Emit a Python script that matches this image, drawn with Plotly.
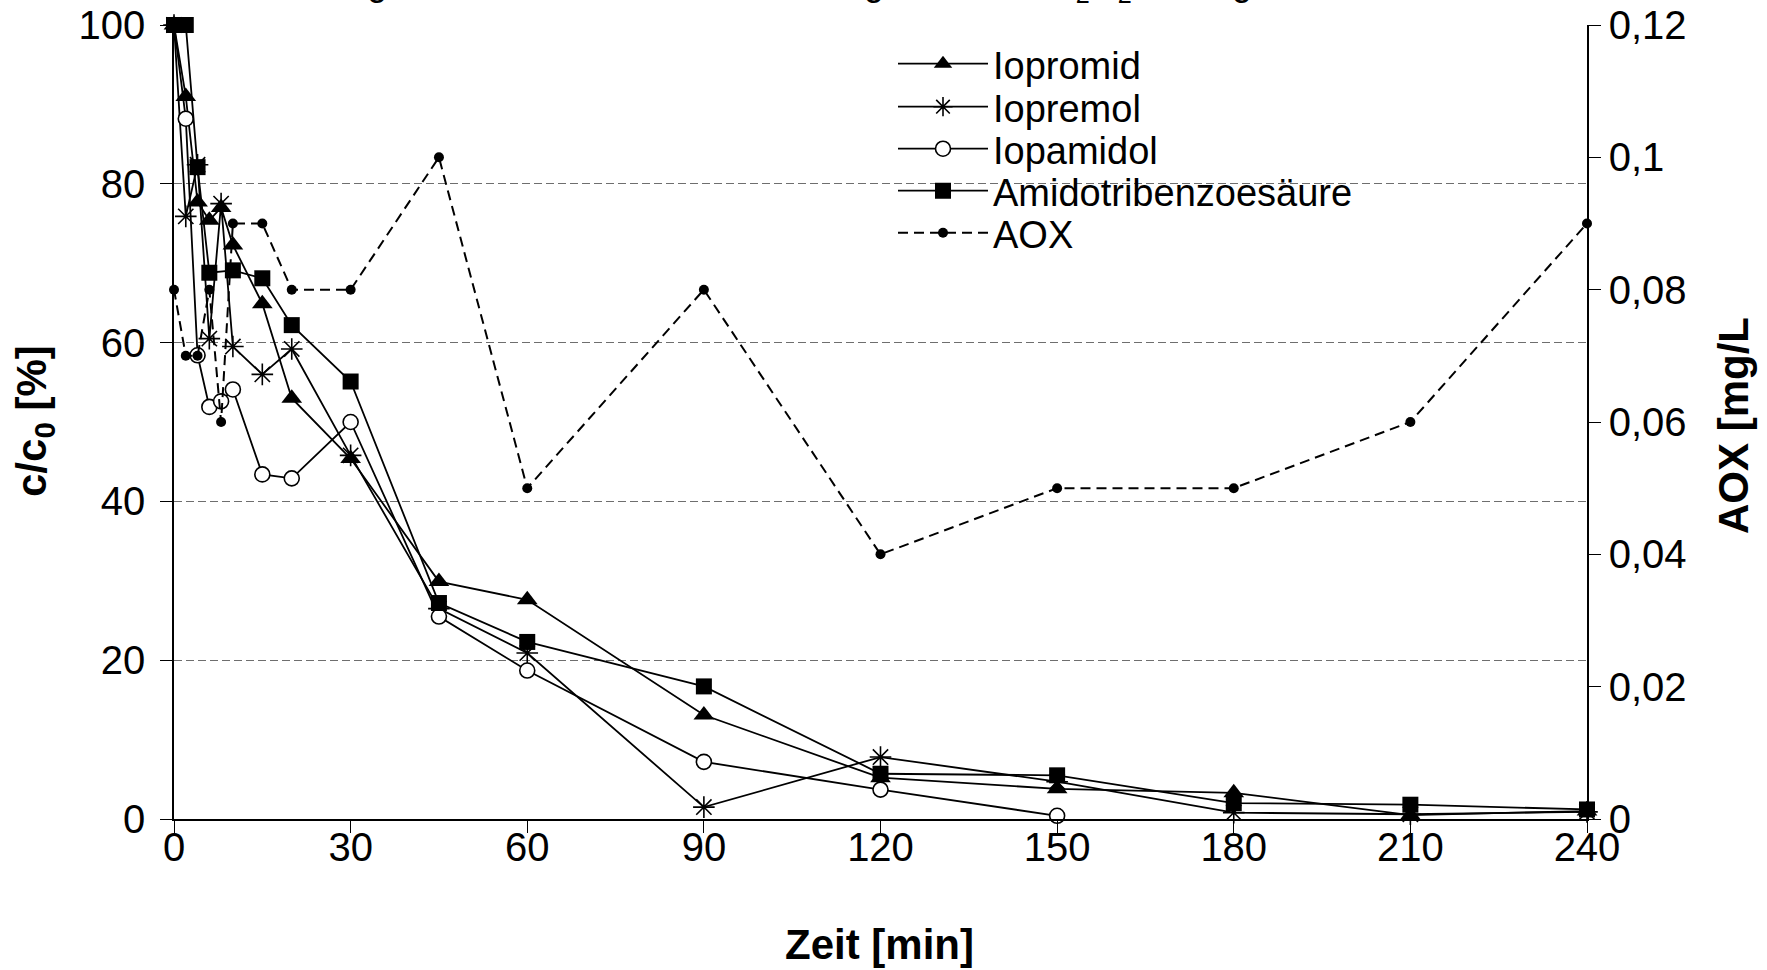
import plotly.graph_objects as go

# ---- data ----
x_ticks = [0, 30, 60, 90, 120, 150, 180, 210, 240]
y_ticks = [0, 20, 40, 60, 80, 100]
y2_tickvals = [0, 0.02, 0.04, 0.06, 0.08, 0.10, 0.12]
y2_ticktext = ["0", "0,02", "0,04", "0,06", "0,08", "0,1", "0,12"]

t_iopromid = [0, 2, 4, 6, 8, 10, 15, 20, 30, 45, 60, 90, 120, 150, 180, 210, 240]
iopromid = [100, 91, 77.7, 75.4, 77, 72.3, 64.9, 53, 45.4, 29.9, 27.6, 13.1, 5.2, 3.8, 3.3, 0.5, 1.0]

t_iopremol = [0, 2, 4, 6, 8, 10, 15, 20, 30, 45, 60, 90, 120, 150, 180, 210, 240]
iopremol = [100, 75.9, 82.4, 60.5, 77.5, 59.5, 56, 59.2, 45.8, 26.5, 20.9, 1.5, 7.8, 4.7, 0.8, 0.6, 0.9]

t_iopamidol = [0, 2, 4, 6, 8, 10, 15, 20, 30, 45, 60, 90, 120, 150]
iopamidol = [100, 88.2, 58.4, 51.9, 52.6, 54.1, 43.4, 42.9, 50, 25.5, 18.7, 7.2, 3.7, 0.4]

t_amido = [0, 2, 4, 6, 10, 15, 20, 30, 45, 60, 90, 120, 150, 180, 210, 240]
amido = [100, 100, 82.1, 68.8, 69.1, 68.1, 62.2, 55.1, 27.2, 22.3, 16.7, 5.7, 5.5, 2.0, 1.8, 1.2]

t_aox = [0, 2, 4, 6, 8, 10, 15, 20, 30, 45, 60, 90, 120, 150, 180, 210, 240]
aox = [0.08, 0.07, 0.07, 0.08, 0.06, 0.09, 0.09, 0.08, 0.08, 0.10, 0.05, 0.08, 0.04, 0.05, 0.05, 0.06, 0.09]

FONT = "Liberation Sans, Arial, sans-serif"
W, H = 1767, 970
L, R, T, B = 174, 180, 25, 151
PW, PH = W - L - R, H - T - B


def px_x(px):
    return (px - L) / PW


def px_y(py):
    return (H - B - py) / PH


fig = go.Figure()

line = dict(color="black", width=1.8)

fig.add_trace(go.Scatter(
    x=t_iopromid, y=iopromid, name="Iopromid", mode="lines+markers",
    line=line, marker=dict(symbol="triangle-up", size=18, color="black"),
    cliponaxis=False, legend="legend"))
fig.add_trace(go.Scatter(
    x=t_iopremol, y=iopremol, name="Iopremol", mode="lines+markers",
    line=line, marker=dict(symbol="asterisk-open", size=18, color="black",
                           line=dict(color="black", width=1.6)),
    cliponaxis=False, legend="legend2"))
fig.add_trace(go.Scatter(
    x=t_iopamidol, y=iopamidol, name="Iopamidol", mode="lines+markers",
    line=line, marker=dict(symbol="circle", size=15, color="white",
                           line=dict(color="black", width=1.6)),
    cliponaxis=False, legend="legend3"))
fig.add_trace(go.Scatter(
    x=t_amido, y=amido, name="Amidotribenzoesäure", mode="lines+markers",
    line=line, marker=dict(symbol="square", size=16, color="black"),
    cliponaxis=False, legend="legend4"))
fig.add_trace(go.Scatter(
    x=t_aox, y=aox, name="AOX", mode="lines+markers", yaxis="y2",
    line=dict(color="black", width=2, dash="10px,6px"),
    marker=dict(symbol="circle", size=10, color="black"),
    cliponaxis=False, legend="legend5"))

tickfont = dict(family=FONT, size=40, color="black")
titlefont = dict(family=FONT, size=42, color="black")

legend_rows = [64, 107, 149, 191, 233]
legends = {}
for i, ry in enumerate(legend_rows):
    key = "legend" if i == 0 else f"legend{i + 1}"
    legends[key] = dict(
        x=px_x(893), y=px_y(ry), xanchor="left", yanchor="middle",
        font=dict(family=FONT, size=38, color="black"),
        bgcolor="rgba(255,255,255,0)", borderwidth=0, itemwidth=90,
        tracegroupgap=0)

axis_common = dict(ticks="outside", ticklen=12, tickcolor="black", tickwidth=1,
                   showline=True, linecolor="black", linewidth=1.5,
                   zeroline=False, tickfont=tickfont, automargin=False)

fig.update_layout(
    width=W, height=H,
    margin=dict(l=L, r=R, t=T, b=B, pad=0, autoexpand=False),
    paper_bgcolor="white", plot_bgcolor="white",
    font=dict(family=FONT, color="black"),
    showlegend=True,
    xaxis=dict(range=[0, 240], tickvals=x_ticks, showgrid=False,
               ticklabelstandoff=-20, **axis_common),
    yaxis=dict(range=[0, 100], tickvals=y_ticks, showgrid=True, gridcolor="#6e6e6e",
               gridwidth=1, griddash="8px,4px", ticklabelstandoff=7, **axis_common),
    yaxis2=dict(range=[0, 0.12], overlaying="y", side="right", anchor="x",
                tickvals=y2_tickvals, ticktext=y2_ticktext, showgrid=False,
                **axis_common),
    **legends,
    annotations=[
        dict(text="<b>Zeit [min]</b>", xref="paper", yref="paper",
             x=px_x(879), y=px_y(944), xanchor="center", yanchor="middle",
             showarrow=False, font=titlefont),
        dict(text="<b>c/c<sub>0</sub> [%]</b>", xref="paper", yref="paper",
             x=px_x(35), y=px_y(421), xanchor="center", yanchor="middle",
             textangle=-90, showarrow=False, font=titlefont),
        dict(text="<b>AOX [mg/L</b>", xref="paper", yref="paper",
             x=px_x(1733), y=px_y(425), xanchor="center", yanchor="middle",
             textangle=-90, showarrow=False, font=titlefont),
        dict(text="Konzentration 1 mg/L AOX, 2 mL/min Ozon, 10 mg/L Ozon + H<sub>2</sub>O<sub>2</sub>, 20 mg/L DOC, 20 °C",
             xref="paper", yref="paper", x=px_x(73), y=px_y(10),
             xanchor="left", yanchor="bottom", showarrow=False,
             font=dict(family=FONT, size=36, color="black")),
    ],
)

fig.write_html("out.html")
